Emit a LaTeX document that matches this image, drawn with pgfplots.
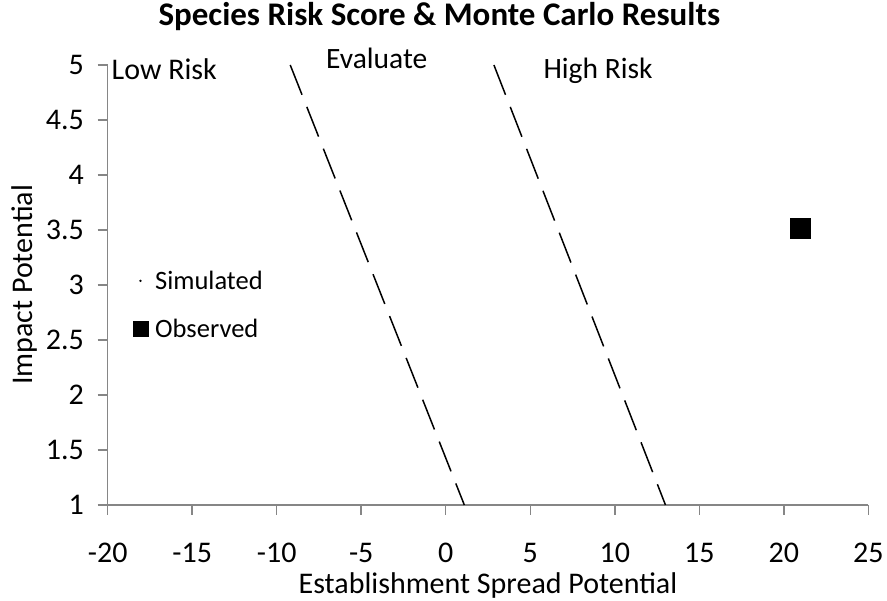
\documentclass[border=0pt]{standalone}
\usepackage{fontspec}
\setmainfont{Carlito}
\usepackage{pgfplots}
\pgfplotsset{compat=1.18}
\definecolor{axisgray}{HTML}{868686}
\pgfplotsset{
  simleg/.style={legend image code/.code={\draw[##1] plot coordinates {(7.5pt,0pt)} (0pt,0pt) (22pt,0pt);}},
  obsleg/.style={legend image code/.code={\draw[##1,mark size=7.5pt] plot coordinates {(7.5pt,0pt)} (0pt,0pt) (22pt,0pt);}},
}
\begin{document}
\begin{tikzpicture}
\useasboundingbox (-107.7pt,-96pt) rectangle (779.3pt,505pt);
\begin{axis}[
  scale only axis, width=760.6pt, height=440pt,
  xmin=-20, xmax=25, ymin=1, ymax=5,
  xtick={-20,-15,...,25}, ytick={1,1.5,2,2.5,3,3.5,4,4.5,5},
  axis x line*=bottom, axis y line*=left,
  tick align=outside, major tick length=10pt,
  axis line style={draw=axisgray, line width=1.5pt},
  x axis line style={draw=axisgray, line width=1.5pt},
  y axis line style={draw=axisgray, line width=1.5pt},
  every tick/.style={draw=axisgray, line width=1.5pt},
  /pgf/number format/assume math mode=true,
  ticklabel style={font=\fontsize{30}{36}\selectfont, text=black, inner sep=0pt},
  xticklabel style={anchor=base, yshift=-48pt},
  yticklabel style={anchor=east, xshift=-13.7pt},
  every axis x label/.style={at={(axis description cs:0.5,0)}, anchor=base, yshift=-88.5pt, font=\fontsize{30}{36}\selectfont},
  every axis y label/.style={at={(axis description cs:0,0.5)}, rotate=90, anchor=base, yshift=74.7pt, font=\fontsize{30}{36}\selectfont},
  xlabel={Establishment Spread Potential},
  ylabel={Impact Potential},
  title={Species Risk Score \& Monte Carlo Results},
  title style={at={(axis description cs:0.436,1)}, anchor=base, yshift=33pt, font=\fontsize{33}{40}\selectfont\bfseries},
  clip=false,
  legend style={at={(axis cs:-18.53,2.82)}, anchor=west, draw=none, fill=none, inner sep=0pt,
    font=\fontsize{26.5}{32}\selectfont, row sep=28pt,
    nodes={inner sep=0pt},
    /tikz/every even column/.append style={column sep=0pt}},
  legend cell align=left,
]
\addplot[forget plot, black, line width=1.5pt, dash pattern=on 32pt off 13pt] coordinates {(-9.2,5) (1.1,1)};
\addplot[forget plot, black, line width=1.5pt, dash pattern=on 32pt off 13pt] coordinates {(2.85,5) (13.0,1)};
\addplot[only marks, mark=*, mark size=1pt, black, simleg] coordinates {(21,3.52)};
\addplot[only marks, mark=square*, mark size=10pt, black, obsleg] coordinates {(20.96,3.52)};
\legend{Simulated, Observed}
\node[anchor=base west, font=\fontsize{30}{36}\selectfont] at (axis cs:-19.97,4.87) {Low Risk};
\node[anchor=base, font=\fontsize{29.5}{36}\selectfont] at (axis cs:-4.08,4.97) {Evaluate};
\node[anchor=base west, font=\fontsize{29.5}{36}\selectfont] at (axis cs:5.58,4.88) {High Risk};
\end{axis}
\end{tikzpicture}
\end{document}
